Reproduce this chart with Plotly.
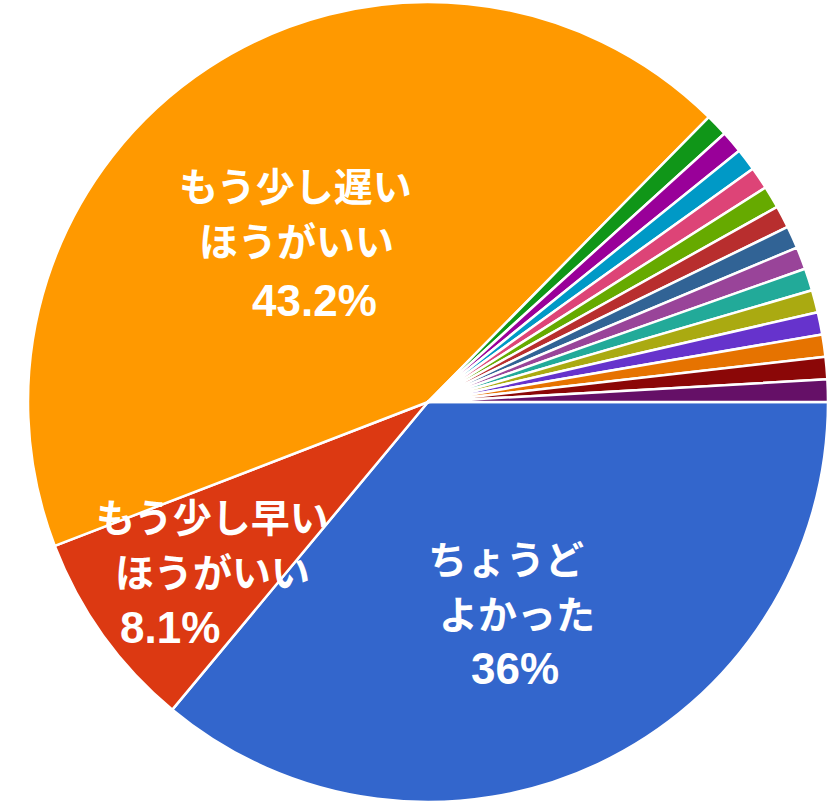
import plotly.graph_objects as go

# ---- data ----
main_labels = ["ちょうどよかった", "もう少し早いほうがいい", "もう少し遅いほうがいい"]
main_counts = [40, 9, 48]
other_labels = [f"その他{i}" for i in range(1, 15)]
other_counts = [1] * 14

colors = ["#3366cc", "#dc3912", "#ff9900", "#109618", "#990099", "#0099c6",
          "#dd4477", "#66aa00", "#b82e2e", "#316395", "#994499", "#22aa99",
          "#aaaa11", "#6633cc", "#e67300", "#8b0707", "#651067"]

label_text = {
    "ちょうどよかった": ["ちょうど", "よかった", "36%"],
    "もう少し早いほうがいい": ["もう少し早い", "ほうがいい", "8.1%"],
    "もう少し遅いほうがいい": ["もう少し遅い", "ほうがいい", "43.2%"],
}
# pixel anchor (center x, center y) of each text line
label_pos = {
    "ちょうどよかった": [(506, 560), (517, 615), (515, 668)],
    "もう少し早いほうがいい": [(212, 518), (212, 573), (170, 627)],
    "もう少し遅いほうがいい": [(295, 187), (296, 243), (314, 300)],
}

W, H = 840, 805
labels = main_labels + other_labels
values = main_counts + other_counts

fig = go.Figure(go.Pie(
    labels=labels,
    values=values,
    sort=False,
    direction="clockwise",
    rotation=90,
    marker=dict(colors=colors, line=dict(color="white", width=2.5)),
    textinfo="none",
    hoverinfo="label+percent",
    showlegend=False,
    domain=dict(x=[(428 - 400) / W, (428 + 400) / W],
                y=[(H - 802) / H, (H - 2) / H]),
))

font_family = "Liberation Sans, Noto Sans CJK JP, sans-serif"
annotations = []
for key, lines in label_text.items():
    for i, (txt, (px, py)) in enumerate(zip(lines, label_pos[key])):
        size = 44 if i == 2 else 39
        annotations.append(dict(
            x=px / W, y=1 - py / H, xref="paper", yref="paper",
            text=f"<b>{txt}</b>", showarrow=False,
            xanchor="center", yanchor="middle",
            font=dict(family=font_family, size=size, color="white"),
        ))

fig.update_layout(
    width=W, height=H,
    margin=dict(l=0, r=0, t=0, b=0),
    paper_bgcolor="white",
    plot_bgcolor="white",
    annotations=annotations,
)

fig.write_html("out.html",
               config={"displayModeBar": False},
               post_script="document.body.style.margin='0';document.body.style.overflow='hidden';")
